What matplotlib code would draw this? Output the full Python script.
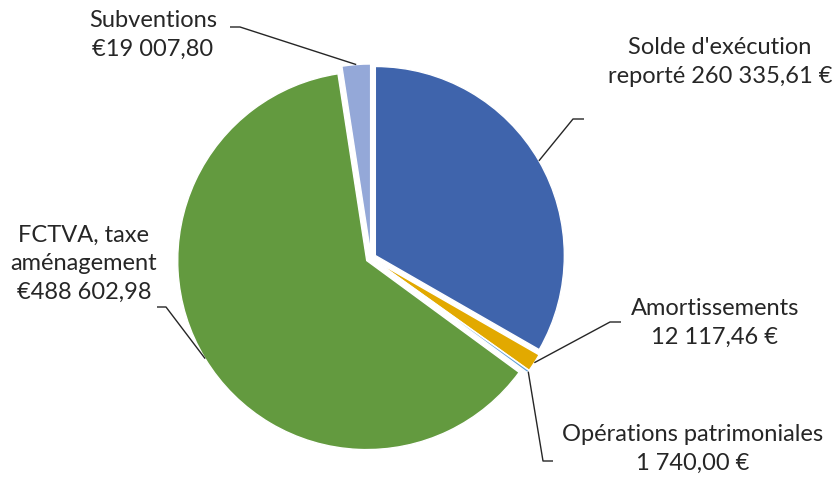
import numpy as np
import matplotlib.pyplot as plt

plt.rcParams['font.family'] = ['Lato', 'DejaVu Sans']

labels = ["Solde d'exécution\nreporté 260 335,61 €", "Amortissements\n12 117,46 €",
          "Opérations patrimoniales\n1 740,00 €", "FCTVA, taxe\naménagement\n€488 602,98",
          "Subventions\n€19 007,80"]
values = [260335.61, 12117.46, 1740.00, 488602.98, 19007.80]
colors = ["#3F64AC", "#E2A900", "#5B9BD5", "#639A3F", "#94A8D8"]

# label text centre, elbow start/end (pixel coords, y from top)
label_pos = [(720, 62), (715, 323), (693, 449), (84, 264), (153, 35)]
elbows = [((584, 119), (573, 119)), ((621, 322), (610, 322)), ((553, 461), (543, 461)),
          ((157, 307), (166, 307)), ((230, 27), (240, 27))]

W, H = 834, 480
fig = plt.figure(figsize=(8.34, 4.8), dpi=100)
ax = fig.add_axes([0, 0, 1, 1])

cx, cy, R = 371, H - 258, 189
wedges, _ = ax.pie(values, colors=colors, startangle=90, counterclock=False,
                   radius=R, center=(cx, cy), explode=[5] * 5,
                   wedgeprops=dict(edgecolor='white', linewidth=1.0), frame=True)
ax.set_xlim(0, W)
ax.set_ylim(0, H)
ax.set_aspect('equal')
ax.axis('off')

for w, lab, (tx, ty), (e0, e1) in zip(wedges, labels, label_pos, elbows):
    mid = np.deg2rad((w.theta1 + w.theta2) / 2)
    wx, wy = w.center
    ax_pt = (wx + w.r * np.cos(mid), wy + w.r * np.sin(mid))
    ax.plot([e0[0], e1[0], ax_pt[0]], [H - e0[1], H - e1[1], ax_pt[1]],
            color='#262626', lw=1.0, solid_capstyle='butt')
    ax.text(tx, H - ty, lab, ha='center', va='center', fontsize=17,
            color='#262626', linespacing=1.45)

fig.savefig('out.png', dpi=100)
